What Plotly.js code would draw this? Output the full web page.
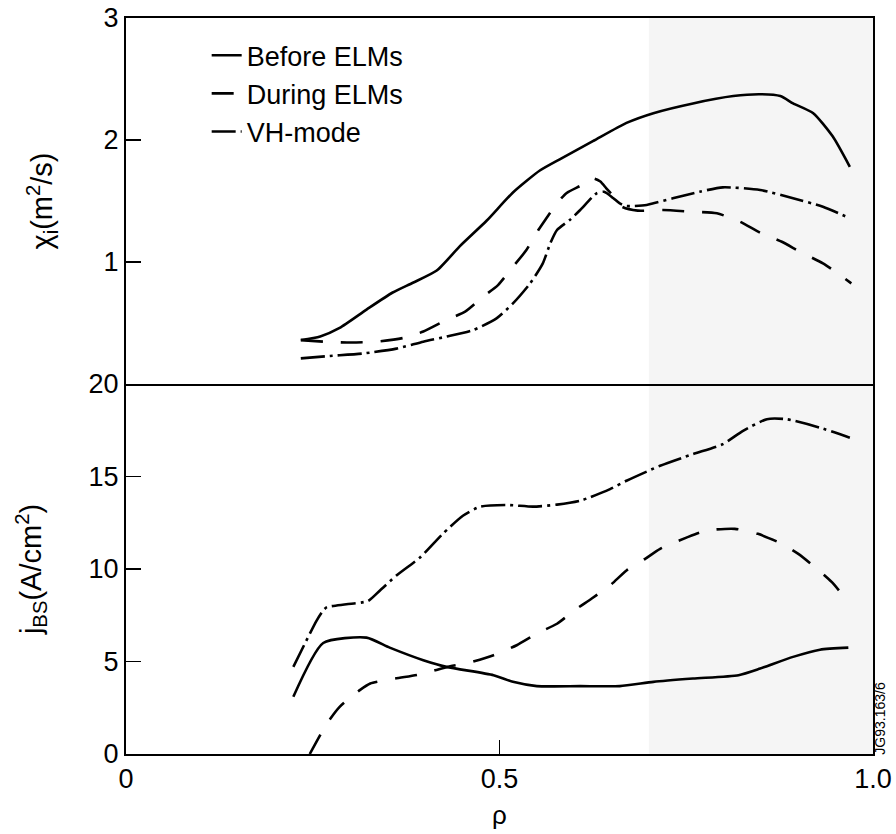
<!DOCTYPE html>
<html>
<head>
<meta charset="utf-8">
<script src="https://cdn.plot.ly/plotly-3.0.1.min.js"></script>
<style>html,body{margin:0;padding:0;background:#fff;}#chart{width:896px;height:834px;}</style>
</head>
<body>
<div id="chart"></div>
<script>
// ---------- data ----------
const seriesNames = ["Before ELMs", "During ELMs", "VH-mode"];

// top panel: chi_i (m^2/s)
const rhoChiBefore = [0.234,0.260,0.286,0.322,0.357,0.384,0.416,0.447,0.483,0.518,0.554,0.583,0.625,0.670,0.706,0.759,0.813,0.849,0.876,0.893,0.920,0.946,0.969];
const chiBefore    = [0.36,0.39,0.46,0.61,0.75,0.83,0.93,1.13,1.34,1.57,1.75,1.85,1.99,2.14,2.22,2.30,2.36,2.375,2.36,2.30,2.22,2.03,1.78];

const rhoChiDuring = [0.234,0.270,0.302,0.336,0.371,0.398,0.429,0.454,0.478,0.498,0.518,0.536,0.552,0.563,0.577,0.590,0.610,0.625,0.635,0.643,0.657,0.664,0.685,0.719,0.755,0.791,0.822,0.849,0.878,0.902,0.933,0.956,0.971];
const chiDuring    = [0.36,0.345,0.34,0.347,0.377,0.43,0.525,0.593,0.716,0.811,0.961,1.098,1.262,1.361,1.484,1.566,1.63,1.686,1.66,1.604,1.508,1.453,1.421,1.426,1.413,1.399,1.33,1.24,1.166,1.085,0.989,0.893,0.825];

const rhoChiVH = [0.234,0.273,0.317,0.362,0.398,0.429,0.465,0.496,0.518,0.541,0.558,0.568,0.577,0.594,0.608,0.630,0.640,0.652,0.661,0.670,0.697,0.706,0.732,0.768,0.799,0.849,0.893,0.933,0.969];
const chiVH    = [0.21,0.23,0.25,0.29,0.347,0.388,0.443,0.538,0.661,0.825,0.989,1.153,1.262,1.344,1.426,1.563,1.576,1.525,1.48,1.459,1.467,1.481,1.522,1.576,1.612,1.59,1.522,1.453,1.358];

// bottom panel: j_BS (A/cm^2)
const rhoJBefore = [0.224,0.264,0.322,0.353,0.398,0.429,0.492,0.518,0.550,0.608,0.661,0.706,0.759,0.820,0.849,0.893,0.929,0.967];
const jBefore    = [3.09,6.0,6.29,5.75,5.07,4.71,4.26,3.9,3.67,3.67,3.67,3.9,4.08,4.26,4.62,5.25,5.64,5.75];

const rhoJDuring = [0.246,0.269,0.286,0.313,0.327,0.360,0.394,0.434,0.458,0.492,0.523,0.550,0.577,0.600,0.623,0.648,0.670,0.695,0.715,0.751,0.777,0.815,0.846,0.878,0.900,0.925,0.945,0.967];
const jDuring    = [0,1.65,2.55,3.45,3.81,4.08,4.31,4.74,4.92,5.34,5.88,6.51,7.04,7.76,8.39,9.11,9.92,10.55,11.09,11.71,12.08,12.17,11.9,11.36,10.82,10.01,9.29,8.21];

const rhoJVH = [0.224,0.255,0.264,0.269,0.295,0.324,0.340,0.362,0.394,0.424,0.451,0.474,0.510,0.545,0.577,0.608,0.648,0.670,0.715,0.759,0.799,0.826,0.858,0.884,0.929,0.969];
const jVH    = [4.71,7.2,7.76,7.94,8.09,8.27,8.84,9.65,10.64,11.9,12.88,13.37,13.46,13.37,13.48,13.69,14.32,14.77,15.58,16.21,16.75,17.47,18.1,18.1,17.64,17.1];

// tick labels
const xTickVals = [0, 0.5, 1.0];
const xTickText = ["0", "0.5", "1.0"];
const chiTickVals = [1, 2, 3];
const chiTickText = ["1", "2", "3"];
const jTickVals = [0, 5, 10, 15, 20];
const jTickText = ["0", "5", "10", "15", "20"];
const shadedRho = [0.70, 1.0];

// ---------- styles ----------
const FONT = "Liberation Sans, Arial, Helvetica, sans-serif";
const dashes = ["solid", "22px,18px", "24px,5px,3px,5px"];
const W = 2.6;

function tr(x, y, i, xa, ya, showlegend) {
  return {
    x: x, y: y, xaxis: xa, yaxis: ya, type: "scatter", mode: "lines",
    name: seriesNames[i], legendgroup: "g" + i, showlegend: showlegend,
    line: {color: "#000", width: W, dash: dashes[i], shape: "spline", smoothing: 0.6},
    hoverinfo: "skip"
  };
}

const data = [
  tr(rhoChiBefore, chiBefore, 0, "x2", "y", true),
  tr(rhoChiDuring, chiDuring, 1, "x2", "y", true),
  tr(rhoChiVH, chiVH, 2, "x2", "y", true),
  tr(rhoJBefore, jBefore, 0, "x", "y2", false),
  tr(rhoJDuring, jDuring, 1, "x", "y2", false),
  tr(rhoJVH, jVH, 2, "x", "y2", false)
];

const split = 370 / 736;

const layout = {
  width: 896, height: 834,
  margin: {l: 126, r: 23, t: 18, b: 80},
  paper_bgcolor: "#fff", plot_bgcolor: "rgba(0,0,0,0)",
  font: {family: FONT, size: 26, color: "#000"},
  showlegend: true,
  legend: {
    x: 0.108, y: 0.982, xanchor: "left", yanchor: "top",
    bgcolor: "rgba(0,0,0,0)", borderwidth: 0,
    font: {family: FONT, size: 27, color: "#000"},
    tracegroupgap: 5, traceorder: "normal"
  },
  xaxis: {
    anchor: "y2", domain: [0, 1], range: [0, 1],
    tickvals: xTickVals, ticktext: xTickText,
    ticks: "inside", ticklen: 14, tickwidth: 1.5, tickcolor: "#000",
    showline: true, linecolor: "#000", linewidth: 2, mirror: false,
    showgrid: false, zeroline: false,
    tickfont: {family: FONT, size: 27},
    title: {text: "ρ", font: {family: FONT, size: 26}, standoff: 12}
  },
  xaxis2: {
    anchor: "y", domain: [0, 1], range: [0, 1], matches: "x",
    showticklabels: false, ticks: "",
    showline: true, linecolor: "#000", linewidth: 2, mirror: true,
    showgrid: false, zeroline: false
  },
  yaxis: {
    domain: [split, 1], range: [0, 3],
    tickvals: chiTickVals, ticktext: chiTickText,
    ticks: "inside", ticklen: 15, tickwidth: 1.5, tickcolor: "#000",
    showline: true, linecolor: "#000", linewidth: 2, mirror: true,
    showgrid: false, zeroline: false,
    tickfont: {family: FONT, size: 27},
    title: {text: "χ<sub>i</sub>(m<sup>2</sup>/s)", font: {family: FONT, size: 29}, standoff: 42}
  },
  yaxis2: {
    domain: [0, split], range: [0, 20],
    tickvals: jTickVals, ticktext: jTickText,
    ticks: "inside", ticklen: 15, tickwidth: 1.5, tickcolor: "#000",
    showline: true, linecolor: "#000", linewidth: 2, mirror: true,
    showgrid: false, zeroline: false,
    tickfont: {family: FONT, size: 27},
    title: {text: "j<sub>BS</sub>(A/cm<sup>2</sup>)", font: {family: FONT, size: 29}, standoff: 38}
  },
  shapes: [{
    type: "rect", layer: "below", xref: "x", yref: "paper",
    x0: shadedRho[0], x1: shadedRho[1], y0: 0, y1: 1,
    fillcolor: "rgba(0,0,0,0.04)", line: {width: 0}
  }],
  annotations: [{
    text: "JG93.163/6", xref: "paper", yref: "paper", x: 1.009, y: 0.049,
    xanchor: "center", yanchor: "middle", textangle: -90, showarrow: false,
    font: {family: FONT, size: 14, color: "#000"}
  }]
};

Plotly.newPlot("chart", data, layout, {staticPlot: true, displayModeBar: false});
</script>
</body>
</html>
